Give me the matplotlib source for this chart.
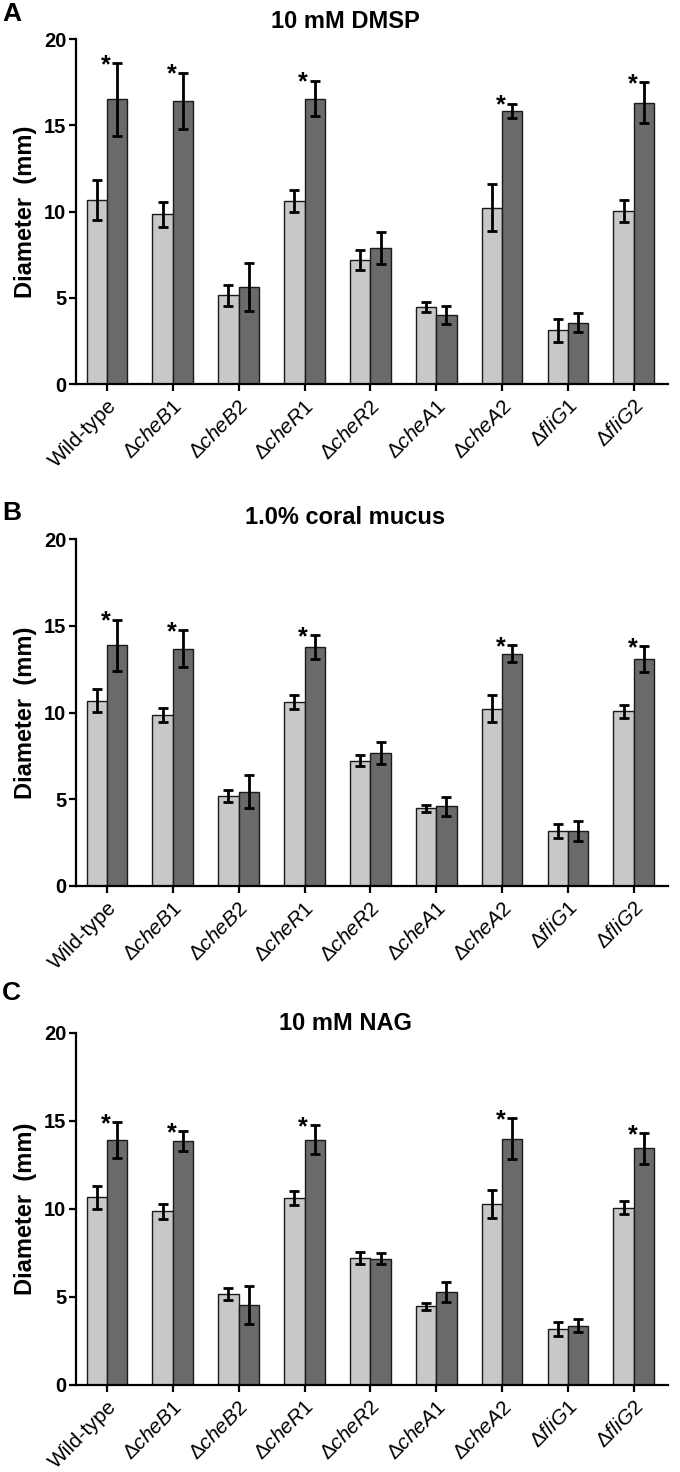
import matplotlib
matplotlib.use("Agg")
import matplotlib.pyplot as plt
import numpy as np

plt.rcParams['font.family'] = ['Liberation Sans', 'DejaVu Sans']
plt.rcParams['mathtext.fontset'] = 'custom'
plt.rcParams['mathtext.rm'] = 'Liberation Sans'
plt.rcParams['mathtext.it'] = 'Liberation Sans:italic'

# datos
cepas = ['Wild-type', r'$\Delta\mathit{cheB1}$', r'$\Delta\mathit{cheB2}$', r'$\Delta\mathit{cheR1}$',
         r'$\Delta\mathit{cheR2}$', r'$\Delta\mathit{cheA1}$', r'$\Delta\mathit{cheA2}$',
         r'$\Delta\mathit{fliG1}$', r'$\Delta\mathit{fliG2}$']

claro_a = [10.65, 9.84, 5.14, 10.61, 7.19, 4.45, 10.22, 3.11, 10.05]
claro_a_err = [1.15, 0.72, 0.59, 0.61, 0.60, 0.30, 1.37, 0.68, 0.64]
oscuro_a = [16.5, 16.42, 5.62, 16.54, 7.87, 3.98, 15.83, 3.55, 16.31]
oscuro_a_err = [2.1, 1.63, 1.39, 1.03, 0.93, 0.52, 0.43, 0.55, 1.19]

claro_b = [10.69, 9.87, 5.19, 10.63, 7.23, 4.48, 10.23, 3.16, 10.08]
claro_b_err = [0.67, 0.40, 0.32, 0.40, 0.33, 0.19, 0.80, 0.42, 0.37]
oscuro_b = [13.87, 13.69, 5.44, 13.79, 7.67, 4.60, 13.39, 3.19, 13.08]
oscuro_b_err = [1.49, 1.04, 0.93, 0.68, 0.65, 0.55, 0.48, 0.58, 0.73]

claro_c = [10.66, 9.85, 5.17, 10.63, 7.22, 4.47, 10.25, 3.15, 10.06]
claro_c_err = [0.66, 0.43, 0.35, 0.40, 0.34, 0.20, 0.80, 0.41, 0.37]
oscuro_c = [13.92, 13.83, 4.53, 13.92, 7.16, 5.27, 13.98, 3.35, 13.43]
oscuro_c_err = [1.01, 0.57, 1.08, 0.83, 0.31, 0.58, 1.16, 0.37, 0.88]

significativo = [True, True, False, True, False, False, True, False, True]

# (letra, titulo, ..., posicion de ejes, y titulo en px, y letra en px)
paneles = [
    ('A', '10 mM DMSP', claro_a, claro_a_err, oscuro_a, oscuro_a_err, [0.1118, 0.7391, 0.8706, 0.2344], 22, 14),
    ('B', '1.0% coral mucus', claro_b, claro_b_err, oscuro_b, oscuro_b_err, [0.1118, 0.3981, 0.8706, 0.2357], 518, 513),
    ('C', '10 mM NAG', claro_c, claro_c_err, oscuro_c, oscuro_c_err, [0.1118, 0.0593, 0.8706, 0.2391], 1023, 993),
]

fig = plt.figure(figsize=(6.8, 14.72), dpi=100)
H = 1472.0
x = np.arange(len(cepas))
ancho = 0.31

for letra, titulo, claro, claro_err, oscuro, oscuro_err, pos, y_tit, y_let in paneles:
    ax = fig.add_axes(pos)
    ax.bar(x - ancho / 2, claro, ancho, color='#c8c8c8', edgecolor='#1a1a1a', linewidth=1.0, zorder=2)
    ax.bar(x + ancho / 2, oscuro, ancho, color='#6a6a6a', edgecolor='#1a1a1a', linewidth=1.0, zorder=2)
    ax.errorbar(x - ancho / 2, claro, yerr=claro_err, fmt='none', ecolor='black',
                elinewidth=2, capsize=3.5, capthick=2, zorder=3)
    ax.errorbar(x + ancho / 2, oscuro, yerr=oscuro_err, fmt='none', ecolor='black',
                elinewidth=2, capsize=3.5, capthick=2, zorder=3)
    for i in range(len(cepas)):
        if significativo[i]:
            ax.text(x[i] - 0.02, oscuro[i] + oscuro_err[i] - 0.8, '*', ha='center', va='bottom',
                    fontsize=18, fontweight='bold')
    ax.set_xlim(-0.47, 8.52)
    ax.set_ylim(0, 20)
    ax.set_yticks([0, 5, 10, 15, 20])
    ax.set_xticks(x)
    ax.set_xticklabels(cepas, rotation=45, ha='right', rotation_mode='anchor', fontsize=15)
    for lab in ax.get_yticklabels():
        lab.set_fontweight('bold')
        lab.set_fontsize(14.5)
    ax.spines['top'].set_visible(False)
    ax.spines['right'].set_visible(False)
    ax.spines['left'].set_linewidth(1.6)
    ax.spines['bottom'].set_linewidth(1.6)
    ax.tick_params(axis='both', width=1.6, length=5, direction='out')
    ax.tick_params(axis='y', pad=2)
    ax.tick_params(axis='x', pad=4)
    ax.set_ylabel('Diameter  (mm)', fontsize=17, fontweight='bold', labelpad=5)
    fig.text(0.508, 1 - y_tit / H, titulo, ha='center', va='center', fontsize=17, fontweight='bold')
    fig.text(0.003, 1 - y_let / H, letra, ha='left', va='center', fontsize=19, fontweight='bold')

fig.savefig('out.png', dpi=100)
